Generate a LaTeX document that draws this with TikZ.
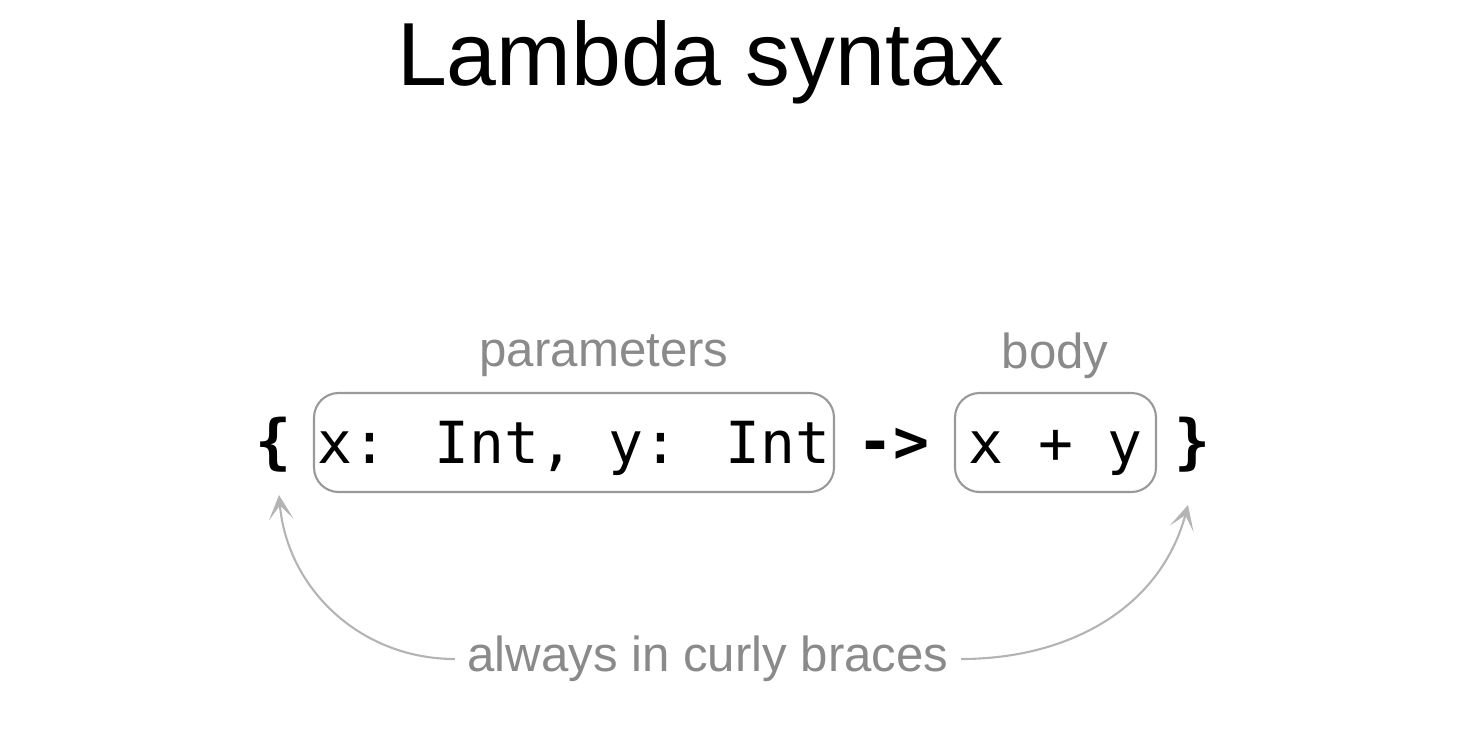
\documentclass[tikz,border=0pt]{standalone}
\usepackage{fontspec}
\setmainfont{Liberation Sans}
\newfontfamily\codefont{DejaVu Sans Mono}
\usetikzlibrary{arrows.meta}
\definecolor{tagcol}{HTML}{8A8A8A}
\definecolor{boxcol}{HTML}{999999}
\definecolor{curvecol}{HTML}{B4B4B4}
\begin{document}
\begin{tikzpicture}[
  codebox/.style={draw=boxcol,line width=0.6pt,rounded corners=7pt,minimum height=0.99cm,inner sep=0pt,text height=12pt,text depth=0pt,font=\codefont\fontsize{16.5}{20}\selectfont},
  sym/.style={inner sep=0pt,font=\codefont\bfseries\fontsize{17}{20}\selectfont},
  tag/.style={text=tagcol,font=\fontsize{14}{16}\selectfont},
  curve/.style={draw=curvecol,line width=0.6pt,-{Stealth[length=7pt,width=7pt,inset=4pt]}}]
  \useasboundingbox (0,0) rectangle (14.70,7.38);
  \node[anchor=base,font=\fontsize{25.5}{30}\selectfont] (title) at (7.01,6.53) {Lambda syntax};
  \node[sym] (lbrace) at (2.73,2.93) {\{};
  \node[codebox,minimum width=5.20cm] (params) at (5.74,2.955) {x: Int, y: Int};
  \node[sym] (arrow) at (8.93,2.93) {->};
  \node[codebox,minimum width=2.01cm] (body) at (10.555,2.955) {x + y};
  \node[sym] (rbrace) at (11.92,2.93) {\}};
  \node[tag] (paramtag) at (6.04,3.82) {parameters};
  \node[tag] (bodytag) at (10.55,3.82) {body};
  \node[tag] (hint) at (7.08,0.79) {always in curly braces};
  \coordinate (ltip) at (2.79,2.43);
  \coordinate (rtip) at (11.88,2.33);
  \draw[curve] (hint.west) to[out=180,in=-85] (ltip);
  \draw[curve] (hint.east) to[out=0,in=-105] (rtip);
\end{tikzpicture}
\end{document}
